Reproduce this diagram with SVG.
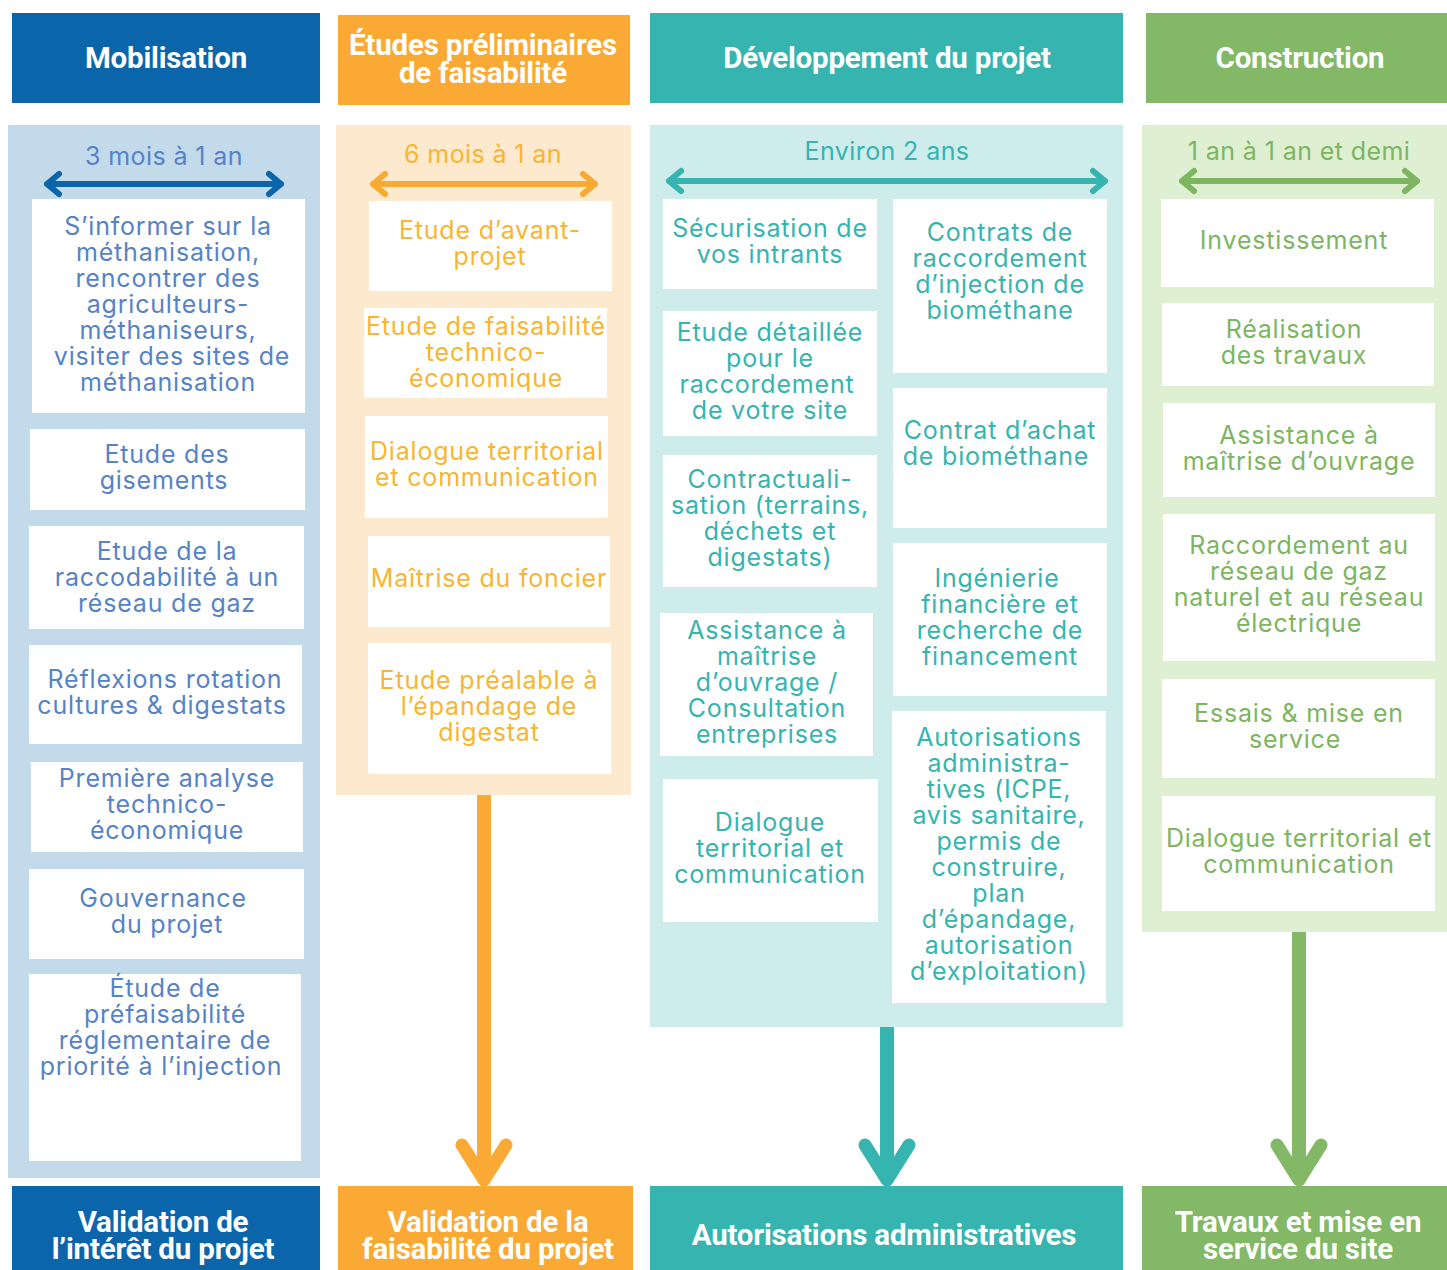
<svg xmlns="http://www.w3.org/2000/svg" width="1447" height="1270" viewBox="0 0 1447 1270">
<style>
.hd{font-family:Roboto,"Liberation Sans",sans-serif;font-weight:700;font-size:29.5px;fill:#fff;text-anchor:middle;letter-spacing:-0.2px}
.tx{font-family:Inter,"Liberation Sans",sans-serif;font-size:25px;text-anchor:middle;letter-spacing:0.8px}
.du{letter-spacing:0.4px}
.b{fill:#5683C6}.o{fill:#F8B531}.t{fill:#35B4B0}.g{fill:#7DB561}
.box{fill:#fff}
.da{fill:none;stroke-width:6;stroke-linecap:round;stroke-linejoin:round}
.va{fill:none;stroke-width:14;stroke-linecap:butt}
.vh{fill:none;stroke-width:13;stroke-linecap:round;stroke-linejoin:round}
</style>
<rect width="1447" height="1270" fill="#fff"/>
<g id="panels">
<rect x="8" y="125" width="312" height="1053" fill="#C3DAEA"/>
<rect x="336" y="125" width="295" height="670" fill="#FDE9CD"/>
<rect x="650" y="125" width="473" height="902" fill="#CEECEB"/>
<rect x="1142" y="125" width="305" height="807" fill="#DFEFD2"/>
</g>
<g id="connectors">
<path class="da" stroke="#0B65AA" d="M47 184H281M59 174L47 184L59 194M269 174L281 184L269 194"/>
<path class="da" stroke="#F7A933" d="M373 184H595M385 174L373 184L385 194M583 174L595 184L583 194"/>
<path class="da" stroke="#35B4B0" d="M669 181H1105M681 171L669 181L681 191M1093 171L1105 181L1093 191"/>
<path class="da" stroke="#7DB561" d="M1182 181H1417M1194 171L1182 181L1194 191M1405 171L1417 181L1405 191"/>
<path class="va" stroke="#F9A934" d="M484 795V1180"/>
<path class="vh" stroke="#F9A934" d="M462 1145L484 1180L506 1145"/>
<path class="va" stroke="#35B4B0" d="M887 1027V1180"/>
<path class="vh" stroke="#35B4B0" d="M865 1145L887 1180L909 1145"/>
<path class="va" stroke="#82B866" d="M1299 932V1180"/>
<path class="vh" stroke="#82B866" d="M1277 1145L1299 1180L1321 1145"/>
</g>
<g id="h-mobilisation"><rect x="12" y="13" width="308" height="90" fill="#0B65AA"/><text class="hd" x="166" y="68">Mobilisation</text></g>
<g id="h-etudes"><rect x="338" y="15" width="292" height="90" fill="#F9A934"/><text class="hd" x="483" y="55">Études préliminaires</text><text class="hd" x="483" y="83">de faisabilité</text></g>
<g id="h-dev"><rect x="650" y="13" width="473" height="90" fill="#35B4B0"/><text class="hd" x="887" y="68">Développement du projet</text></g>
<g id="h-construction"><rect x="1146" y="13" width="301" height="90" fill="#82B866"/><text class="hd" x="1300" y="68">Construction</text></g>
<g id="durations">
<text class="tx du b" x="164" y="165">3 mois à 1 an</text>
<text class="tx du o" x="483" y="163">6 mois à 1 an</text>
<text class="tx du t" x="887" y="160">Environ 2 ans</text>
<text class="tx du g" x="1299" y="160">1 an à 1 an et demi</text>
</g>
<g id="b1"><rect class="box" x="32" y="199" width="273" height="214"/><text class="tx b"><tspan x="168" y="235">S’informer sur la</tspan><tspan x="168" y="261">méthanisation,</tspan><tspan x="168" y="287">rencontrer des</tspan><tspan x="168" y="313">agriculteurs-</tspan><tspan x="168" y="339">méthaniseurs,</tspan><tspan x="172" y="365">visiter des sites de</tspan><tspan x="168" y="391">méthanisation</tspan></text></g>
<g id="b2"><rect class="box" x="30" y="429" width="275" height="81"/><text class="tx b"><tspan x="167" y="463">Etude des</tspan><tspan x="164" y="489">gisements</tspan></text></g>
<g id="b3"><rect class="box" x="29" y="526" width="275" height="103"/><text class="tx b"><tspan x="167" y="560">Etude de la</tspan><tspan x="167" y="586">raccodabilité à un</tspan><tspan x="167" y="612">réseau de gaz</tspan></text></g>
<g id="b4"><rect class="box" x="29" y="645" width="273" height="99"/><text class="tx b"><tspan x="165" y="688">Réflexions rotation</tspan><tspan x="162" y="714">cultures &amp; digestats</tspan></text></g>
<g id="b5"><rect class="box" x="31" y="762" width="272" height="90"/><text class="tx b"><tspan x="167" y="787">Première analyse</tspan><tspan x="167" y="813">technico-</tspan><tspan x="167" y="839">économique</tspan></text></g>
<g id="b6"><rect class="box" x="29" y="869" width="275" height="90"/><text class="tx b"><tspan x="163" y="907">Gouvernance</tspan><tspan x="167" y="933">du projet</tspan></text></g>
<g id="b7"><rect class="box" x="29" y="974" width="272" height="187"/><text class="tx b"><tspan x="165" y="997">Étude de</tspan><tspan x="165" y="1023">préfaisabilité</tspan><tspan x="165" y="1049">réglementaire de</tspan><tspan x="161" y="1075">priorité à l’injection</tspan></text></g>
<g id="o1"><rect class="box" x="369" y="201" width="243" height="90"/><text class="tx o"><tspan x="490" y="239">Etude d’avant-</tspan><tspan x="490" y="265">projet</tspan></text></g>
<g id="o2"><rect class="box" x="364" y="308" width="243" height="90"/><text class="tx o"><tspan x="486" y="335">Etude de faisabilité</tspan><tspan x="486" y="361">technico-</tspan><tspan x="486" y="387">économique</tspan></text></g>
<g id="o3"><rect class="box" x="365" y="416" width="243" height="102"/><text class="tx o"><tspan x="487" y="460">Dialogue territorial</tspan><tspan x="487" y="486">et communication</tspan></text></g>
<g id="o4"><rect class="box" x="368" y="536" width="242" height="91"/><text class="tx o"><tspan x="489" y="587">Maîtrise du foncier</tspan></text></g>
<g id="o5"><rect class="box" x="368" y="643" width="243" height="131"/><text class="tx o"><tspan x="489" y="689">Etude préalable à</tspan><tspan x="489" y="715">l’épandage de</tspan><tspan x="489" y="741">digestat</tspan></text></g>
<g id="t1"><rect class="box" x="663" y="199" width="214" height="90"/><text class="tx t"><tspan x="770" y="237">Sécurisation de</tspan><tspan x="770" y="263">vos intrants</tspan></text></g>
<g id="t2"><rect class="box" x="663" y="311" width="214" height="125"/><text class="tx t"><tspan x="770" y="341">Etude détaillée</tspan><tspan x="770" y="367">pour le</tspan><tspan x="767" y="393">raccordement</tspan><tspan x="770" y="419">de votre site</tspan></text></g>
<g id="t3"><rect class="box" x="663" y="455" width="214" height="132"/><text class="tx t"><tspan x="770" y="488">Contractuali-</tspan><tspan x="770" y="514">sation (terrains,</tspan><tspan x="770" y="540">déchets et</tspan><tspan x="770" y="566">digestats)</tspan></text></g>
<g id="t4"><rect class="box" x="660" y="613" width="213" height="143"/><text class="tx t"><tspan x="767" y="639">Assistance à</tspan><tspan x="767" y="665">maîtrise</tspan><tspan x="767" y="691">d’ouvrage /</tspan><tspan x="767" y="717">Consultation</tspan><tspan x="767" y="743">entreprises</tspan></text></g>
<g id="t5"><rect class="box" x="663" y="779" width="215" height="143"/><text class="tx t"><tspan x="770" y="831">Dialogue</tspan><tspan x="770" y="857">territorial et</tspan><tspan x="770" y="883">communication</tspan></text></g>
<g id="t6"><rect class="box" x="893" y="199" width="214" height="174"/><text class="tx t"><tspan x="1000" y="241">Contrats de</tspan><tspan x="1000" y="267">raccordement</tspan><tspan x="1000" y="293">d’injection de</tspan><tspan x="1000" y="319">biométhane</tspan></text></g>
<g id="t7"><rect class="box" x="893" y="388" width="214" height="140"/><text class="tx t"><tspan x="1000" y="439">Contrat d’achat</tspan><tspan x="996" y="465">de biométhane</tspan></text></g>
<g id="t8"><rect class="box" x="893" y="543" width="214" height="153"/><text class="tx t"><tspan x="997" y="587">Ingénierie</tspan><tspan x="1000" y="613">financière et</tspan><tspan x="1000" y="639">recherche de</tspan><tspan x="1000" y="665">financement</tspan></text></g>
<g id="t9"><rect class="box" x="892" y="711" width="214" height="292"/><text class="tx t"><tspan x="999" y="746">Autorisations</tspan><tspan x="999" y="772">administra-</tspan><tspan x="999" y="798">tives (ICPE,</tspan><tspan x="999" y="824">avis sanitaire,</tspan><tspan x="999" y="850">permis de</tspan><tspan x="999" y="876">construire,</tspan><tspan x="999" y="902">plan</tspan><tspan x="999" y="928">d’épandage,</tspan><tspan x="999" y="954">autorisation</tspan><tspan x="999" y="980">d’exploitation)</tspan></text></g>
<g id="g1"><rect class="box" x="1161" y="199" width="273" height="88"/><text class="tx g"><tspan x="1294" y="249">Investissement</tspan></text></g>
<g id="g2"><rect class="box" x="1162" y="303" width="272" height="83"/><text class="tx g"><tspan x="1294" y="338">Réalisation</tspan><tspan x="1294" y="364">des travaux</tspan></text></g>
<g id="g3"><rect class="box" x="1163" y="403" width="272" height="94"/><text class="tx g"><tspan x="1299" y="444">Assistance à</tspan><tspan x="1299" y="470">maîtrise d’ouvrage</tspan></text></g>
<g id="g4"><rect class="box" x="1163" y="514" width="272" height="147"/><text class="tx g"><tspan x="1299" y="554">Raccordement au</tspan><tspan x="1299" y="580">réseau de gaz</tspan><tspan x="1299" y="606">naturel et au réseau</tspan><tspan x="1299" y="632">électrique</tspan></text></g>
<g id="g5"><rect class="box" x="1162" y="679" width="273" height="99"/><text class="tx g"><tspan x="1299" y="722">Essais &amp; mise en</tspan><tspan x="1295" y="748">service</tspan></text></g>
<g id="g6"><rect class="box" x="1162" y="796" width="273" height="115"/><text class="tx g"><tspan x="1299" y="847">Dialogue territorial et</tspan><tspan x="1299" y="873">communication</tspan></text></g>
<g id="f-validation-interet"><rect x="12" y="1186" width="308" height="84" fill="#0B65AA"/><text class="hd"><tspan x="163" y="1232">Validation de</tspan><tspan x="163" y="1259">l’intérêt du projet</tspan></text></g>
<g id="f-validation-faisabilite"><rect x="338" y="1186" width="295" height="84" fill="#F9A934"/><text class="hd"><tspan x="488" y="1232">Validation de la</tspan><tspan x="488" y="1259">faisabilité du projet</tspan></text></g>
<g id="f-autorisations"><rect x="650" y="1186" width="473" height="84" fill="#35B4B0"/><text class="hd" x="884" y="1245">Autorisations administratives</text></g>
<g id="f-travaux"><rect x="1142" y="1186" width="305" height="84" fill="#82B866"/><text class="hd"><tspan x="1298" y="1232">Travaux et mise en</tspan><tspan x="1298" y="1259">service du site</tspan></text></g>
</svg>
